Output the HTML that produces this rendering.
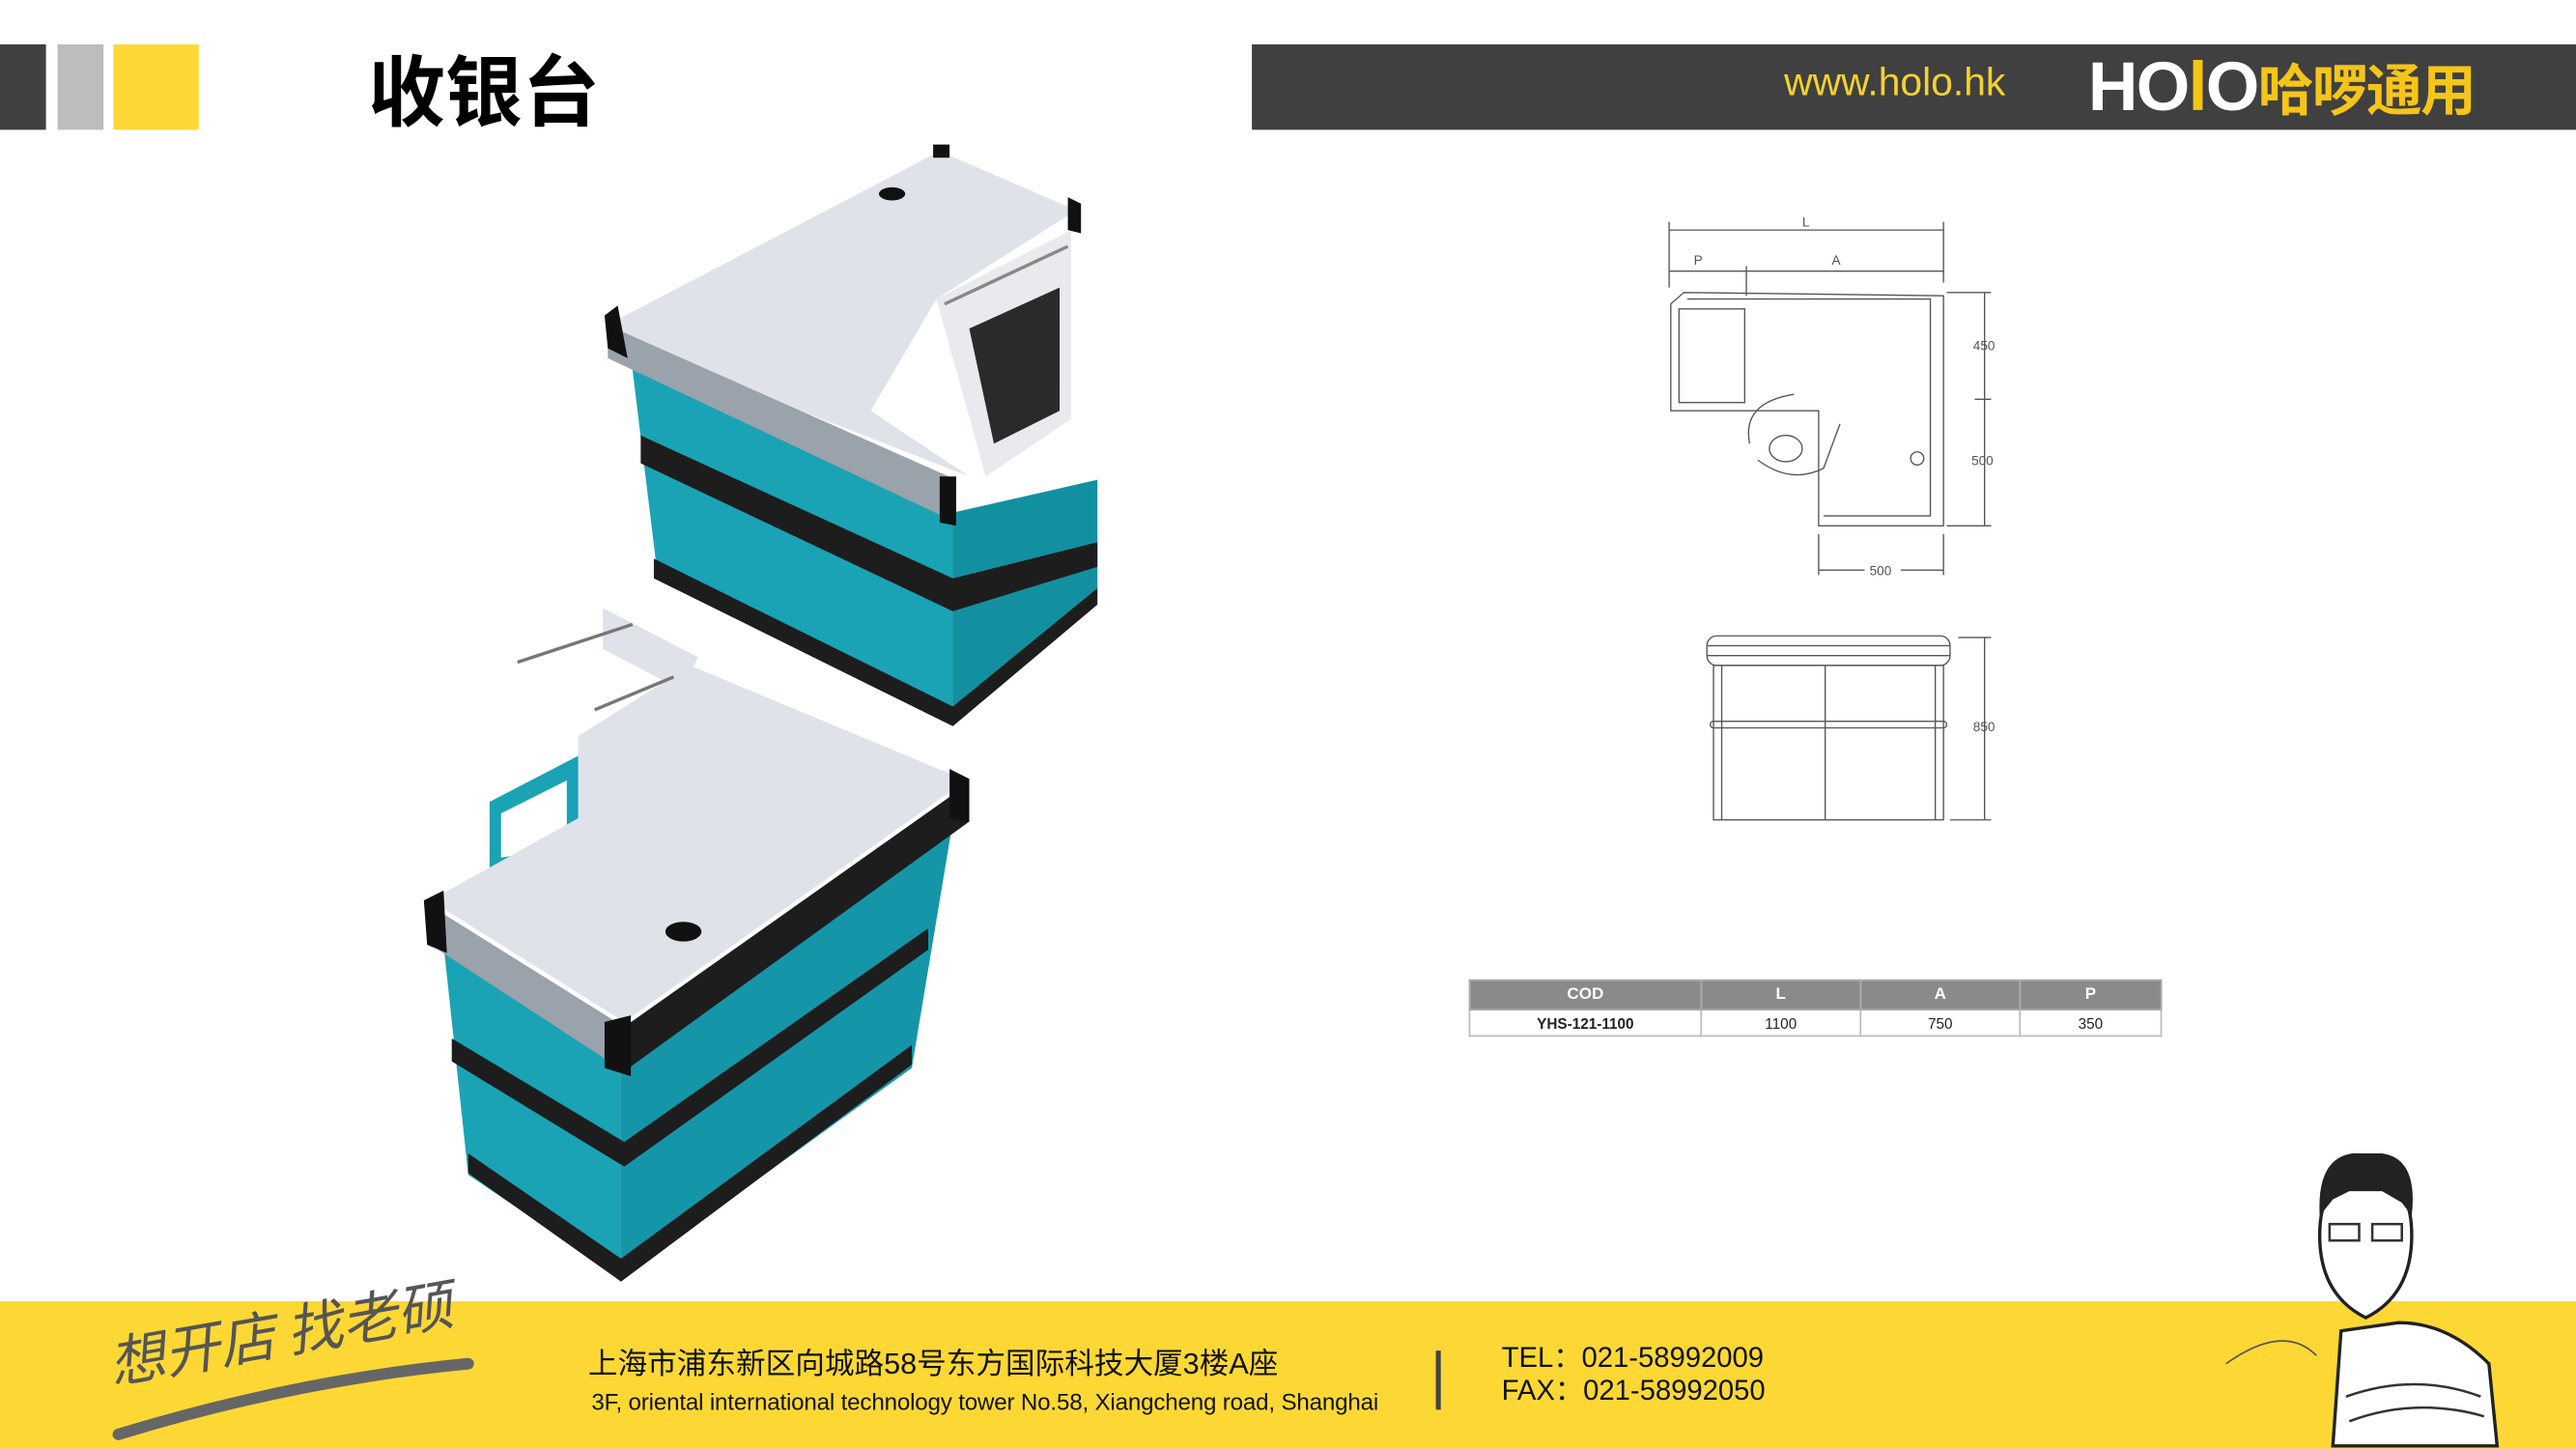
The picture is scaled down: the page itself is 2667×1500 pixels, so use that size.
<!DOCTYPE html>
<html><head><meta charset="utf-8">
<style>
html,body{margin:0;padding:0;background:#fff;}
body{width:2667px;height:1500px;overflow:hidden;position:relative;}
#w{position:absolute;left:0;top:0;width:1568px;height:882px;transform:scale(1.70089);transform-origin:0 0;font-family:"Liberation Sans","Noto Sans CJK SC",sans-serif;}
.a{position:absolute;}
</style></head><body><div id="w">
<div class="a" style="left:0;top:27px;width:28px;height:52px;background:#404040"></div>
<div class="a" style="left:35px;top:27px;width:28px;height:52px;background:#bdbdbd"></div>
<div class="a" style="left:69px;top:27px;width:52px;height:52px;background:#fdd835"></div>
<div class="a" style="left:224px;top:24px;font-size:47px;font-weight:bold;line-height:58px;color:#000;font-family:'Noto Sans CJK SC',sans-serif">收银台</div>
<div class="a" style="left:762px;top:27px;width:806px;height:52px;background:#404040"></div>
<div class="a" style="left:1086px;top:35px;font-size:24px;color:#f5d22e;line-height:32px">www.holo.hk</div>
<div class="a" style="left:1271px;top:28px;font-size:42px;font-weight:bold;color:#fff;line-height:50px;letter-spacing:-1px">HO<span style="color:#f5c518">l</span>O<span style="color:#f5c518;font-family:'Noto Sans CJK SC',sans-serif;font-size:34px">哈啰通用</span></div>

<svg class="a" style="left:0;top:0" width="1568" height="882">
<polygon points="385,225 580,312 580,438 400,348" fill="#1aa3b5"/>
<polygon points="580,312 668,292 668,362 580,438" fill="#13909f"/>
<polygon points="570,182 652,140 652,255 600,290" fill="#e8eaee"/>
<polygon points="590,200 645,175 645,250 605,270" fill="#2a2a2a"/>
<line x1="575" y1="185" x2="650" y2="150" stroke="#888" stroke-width="2"/>
<polygon points="390,265 580,352 668,330 668,345 580,372 390,282" fill="#1d1d1d"/>
<polygon points="398,340 580,430 668,358 668,368 580,442 398,352" fill="#1d1d1d"/>
<polygon points="375,195 572,92 655,128 570,182 530,250 590,290 372,205" fill="#dfe2e8"/>
<polygon points="370,198 582,292 582,318 370,218" fill="#9aa2ab"/>
<polygon points="368,192 376,186 382,218 370,212" fill="#111"/>
<polygon points="572,290 582,290 582,320 572,318" fill="#111"/>
<polygon points="568,88 578,88 578,96 568,96" fill="#111"/>
<polygon points="650,120 658,124 658,142 650,140" fill="#111"/>
<ellipse cx="543" cy="118" rx="8" ry="4" fill="#111"/>
<polygon points="298,488 352,460 352,520 298,530" fill="#1aa3b5"/>
<polygon points="305,495 345,475 345,515 305,522" fill="#fff"/>
<polygon points="270,575 378,640 378,778 285,715" fill="#1aa3b5"/>
<polygon points="378,640 580,500 555,650 378,778" fill="#1596a8"/>
<polygon points="275,632 380,695 565,565 565,578 380,710 275,646" fill="#1d1d1d"/>
<polygon points="285,702 378,766 555,636 555,648 378,780 285,714" fill="#1d1d1d"/>
<polygon points="262,548 352,498 352,448 420,405 588,475 380,622" fill="#dfe2e8"/>
<polygon points="367,370 425,400 415,420 367,395" fill="#dfe2e8"/>
<polygon points="260,550 380,625 380,652 262,575" fill="#9aa2ab"/>
<polygon points="380,625 588,478 590,500 380,652" fill="#1d1d1d"/>
<polygon points="258,548 270,542 272,580 260,575" fill="#111"/>
<polygon points="368,622 384,618 384,655 368,650" fill="#111"/>
<polygon points="578,468 590,474 590,500 578,498" fill="#111"/>
<ellipse cx="416" cy="567" rx="11" ry="6" fill="#111"/>
<line x1="315" y1="403" x2="385" y2="380" stroke="#777" stroke-width="2"/>
<line x1="362" y1="432" x2="410" y2="412" stroke="#777" stroke-width="2"/>
<g stroke="#555" stroke-width="0.8" fill="none">
<line x1="1016" y1="140" x2="1183" y2="140"/><line x1="1016" y1="135" x2="1016" y2="175"/><line x1="1183" y1="135" x2="1183" y2="172"/>
<line x1="1016" y1="165" x2="1183" y2="165"/><line x1="1063" y1="162" x2="1063" y2="180"/>
<path d="M1017,185 L1017,250 L1107,250 L1107,320 L1183,320 L1183,180 L1025,178 Z"/>
<path d="M1022,188 L1062,188 L1062,245 L1022,245 Z"/>
<path d="M1027,182 L1175,182 L1175,314 L1110,314"/>
<ellipse cx="1087" cy="273" rx="10" ry="8"/>
<path d="M1065,270 Q1060,245 1092,240 M1070,280 Q1090,295 1110,285 L1120,258"/>
<circle cx="1167" cy="279" r="4"/>
<line x1="1208" y1="178" x2="1208" y2="320"/><line x1="1202" y1="243" x2="1212" y2="243"/>
<line x1="1185" y1="178" x2="1212" y2="178"/><line x1="1185" y1="320" x2="1212" y2="320"/>
<line x1="1107" y1="325" x2="1107" y2="350"/><line x1="1183" y1="325" x2="1183" y2="350"/>
<line x1="1107" y1="347" x2="1135" y2="347"/><line x1="1157" y1="347" x2="1183" y2="347"/>
<rect x="1039" y="387" width="148" height="18" rx="6"/>
<line x1="1039" y1="393" x2="1187" y2="393"/><line x1="1039" y1="399" x2="1187" y2="399"/>
<rect x="1043" y="405" width="140" height="94"/>
<line x1="1048" y1="405" x2="1048" y2="499"/><line x1="1178" y1="405" x2="1178" y2="499"/>
<rect x="1041" y="439" width="144" height="4" rx="2"/>
<line x1="1111" y1="405" x2="1111" y2="499"/>
<line x1="1208" y1="388" x2="1208" y2="499"/><line x1="1192" y1="388" x2="1212" y2="388"/><line x1="1187" y1="499" x2="1212" y2="499"/>
</g>
<g font-size="8" fill="#555" font-family="Liberation Sans,sans-serif">
<text x="1097" y="138">L</text><text x="1031" y="161">P</text><text x="1115" y="161">A</text>
<text x="1201" y="213">450</text><text x="1200" y="283">500</text><text x="1138" y="350">500</text><text x="1201" y="445">850</text>
</g>
</svg>

<table class="a" style="left:894px;top:596px;width:422px;border-collapse:collapse;font-size:10px;text-align:center;font-weight:bold">
<tr style="background:#8a8a8a;color:#fff;height:18px"><td style="width:138px;border:1px solid #aaa">COD</td><td style="width:94px;border:1px solid #aaa">L</td><td style="width:94px;border:1px solid #aaa">A</td><td style="border:1px solid #aaa">P</td></tr>
<tr style="height:16px;font-size:9px;color:#222"><td style="border:1px solid #bbb">YHS-121-1100</td><td style="border:1px solid #bbb;font-weight:normal">1100</td><td style="border:1px solid #bbb;font-weight:normal">750</td><td style="border:1px solid #bbb;font-weight:normal">350</td></tr>
</table>

<div class="a" style="left:0;top:792px;width:1568px;height:90px;background:#fdd835"></div>
<svg class="a" style="left:60px;top:795px" width="240" height="85"><path d="M12,78 Q120,45 225,35" stroke="#666" stroke-width="7" fill="none" stroke-linecap="round"/></svg>
<div class="a" style="left:70px;top:806px;font-size:34px;color:#555;transform:rotate(-10deg);transform-origin:0 100%;font-family:'Noto Sans CJK SC',sans-serif;font-style:italic;line-height:44px">想开店 找老硕</div>
<div class="a" style="left:358px;top:816px;font-size:18px;color:#111;font-family:'Liberation Sans','Noto Sans CJK SC',sans-serif">上海市浦东新区向城路58号东方国际科技大厦3楼A座</div>
<div class="a" style="left:360px;top:846px;font-size:14.2px;color:#111;letter-spacing:-0.1px">3F, oriental international technology tower No.58, Xiangcheng road, Shanghai</div>
<div class="a" style="left:874px;top:822px;width:3px;height:36px;background:#444"></div>
<div class="a" style="left:914px;top:816px;font-size:17.2px;color:#111;line-height:20px">TEL：021-58992009<br>FAX：021-58992050</div>
<svg class="a" style="left:1350px;top:700px" width="180" height="182">
<path d="M90,15 Q62,15 62,52 Q62,88 90,102 Q118,88 118,52 Q118,15 90,15Z" fill="#fff" stroke="#222" stroke-width="2"/>
<path d="M82,2 Q60,5 62,40 L70,30 L80,25 L100,25 L112,32 L118,40 Q122,5 100,2Z" fill="#222"/>
<rect x="68" y="45" width="18" height="10" fill="none" stroke="#333" stroke-width="1.5"/>
<rect x="94" y="45" width="18" height="10" fill="none" stroke="#333" stroke-width="1.5"/>
<path d="M75,110 L70,180 L170,180 L165,130 Q140,105 110,105Z" fill="#fff" stroke="#222" stroke-width="2"/>
<path d="M78,150 Q120,135 160,150 M80,165 Q120,150 162,162" stroke="#333" fill="none" stroke-width="1.5"/>
<path d="M5,130 Q40,105 60,125" stroke="#555" fill="none"/>
</svg>
</div></body></html>
